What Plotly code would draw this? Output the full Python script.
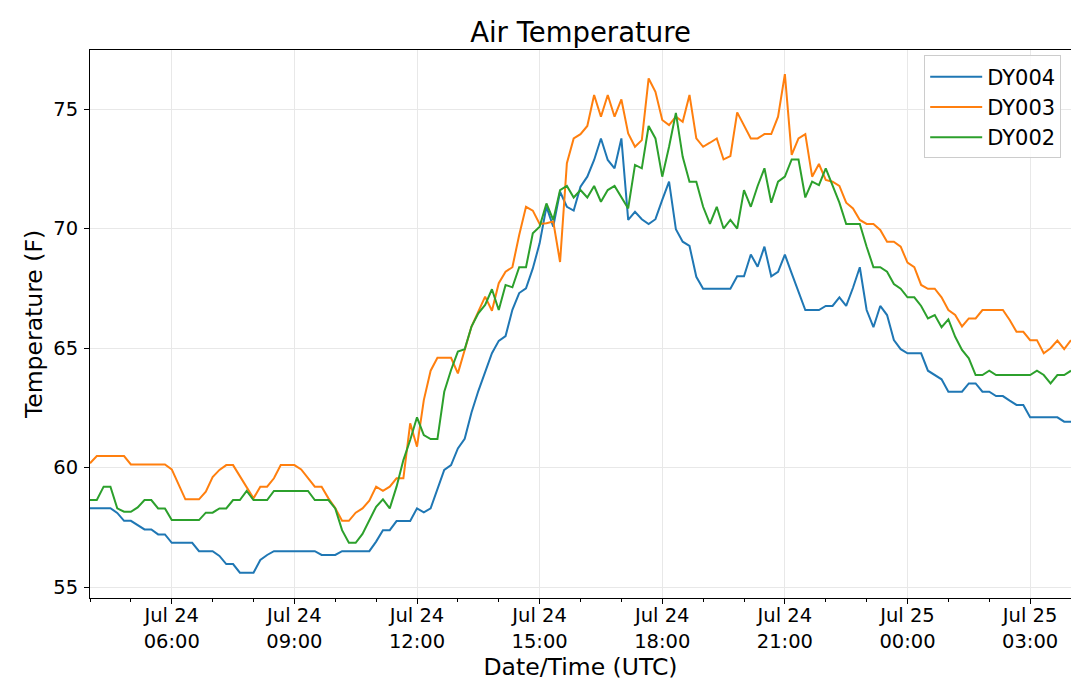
import pandas as pd
import plotly.graph_objects as go

start_time = "2019-07-24 04:00"
n_points = 145
times = pd.date_range(start=start_time, periods=n_points, freq="10min")

dy004 = [58.3, 58.3, 58.3, 58.3, 58.1, 57.77, 57.77, 57.6, 57.41, 57.41,
         57.2, 57.2, 56.85, 56.85, 56.85, 56.85, 56.5, 56.5, 56.5, 56.3,
         55.96, 55.96, 55.6, 55.6, 55.6, 56.13, 56.34, 56.5, 56.5, 56.5,
         56.5, 56.5, 56.5, 56.5, 56.34, 56.34, 56.34, 56.5, 56.5, 56.5,
         56.5, 56.5, 56.9, 57.38, 57.38, 57.76, 57.76, 57.76, 58.29, 58.12,
         58.29, 59.06, 59.9, 60.1, 60.8, 61.2, 62.3, 63.2, 64.0, 64.78,
         65.3, 65.5, 66.6, 67.3, 67.5, 68.33, 69.38, 70.91, 70.08, 71.54,
         70.91, 70.75, 71.75, 72.17, 72.87, 73.77, 72.87, 72.52, 73.77, 70.36,
         70.7, 70.39, 70.19, 70.39, 71.2, 71.96, 69.97, 69.45, 69.27, 67.98,
         67.48, 67.48, 67.48, 67.48, 67.48, 68.0, 68.0, 68.91, 68.4, 69.24,
         68.0, 68.19, 68.91, 68.12, 67.36, 66.59, 66.59, 66.59, 66.76, 66.76,
         67.12, 66.76, 67.52, 68.38, 66.59, 65.87, 66.76, 66.38, 65.33, 64.95,
         64.78, 64.78, 64.78, 64.05, 63.87, 63.69, 63.17, 63.17, 63.17, 63.52,
         63.52, 63.17, 63.17, 62.99, 62.99, 62.8, 62.62, 62.62, 62.1, 62.1,
         62.1, 62.1, 62.1, 61.92, 61.92]

dy003 = [60.18, 60.48, 60.48, 60.48, 60.48, 60.48, 60.13, 60.13, 60.13, 60.13,
         60.13, 60.13, 59.92, 59.3, 58.67, 58.67, 58.67, 58.99, 59.6, 59.9,
         60.1, 60.1, 59.62, 59.2, 58.71, 59.2, 59.2, 59.55, 60.1, 60.1,
         60.1, 59.92, 59.55, 59.2, 59.2, 58.71, 58.3, 57.77, 57.77, 58.11,
         58.29, 58.61, 59.2, 59.02, 59.2, 59.55, 59.55, 61.85, 60.87, 62.82,
         64.05, 64.59, 64.59, 64.59, 63.94, 64.92, 65.9, 66.52, 67.15, 66.56,
         67.71, 68.19, 68.38, 69.73, 70.91, 70.75, 70.19, 70.22, 70.29, 68.6,
         72.73, 73.77, 73.95, 74.29, 75.59, 74.68, 75.59, 74.68, 75.4, 73.98,
         73.42, 73.7, 76.28, 75.72, 74.54, 74.33, 74.68, 74.47, 75.59, 73.77,
         73.42, 73.59, 73.77, 72.89, 73.03, 74.86, 74.33, 73.77, 73.77, 73.95,
         73.95, 74.68, 76.46, 73.08, 73.77, 73.95, 72.17, 72.7, 72.03, 71.96,
         71.78, 71.08, 70.84, 70.36, 70.19, 70.19, 69.94, 69.45, 69.45, 69.24,
         68.57, 68.38, 67.64, 67.48, 67.48, 67.12, 66.59, 66.38, 65.9, 66.24,
         66.24, 66.59, 66.59, 66.59, 66.59, 66.17, 65.68, 65.68, 65.33, 65.33,
         64.78, 64.99, 65.31, 64.95, 65.33]

dy002 = [58.64, 58.64, 59.2, 59.2, 58.29, 58.15, 58.15, 58.33, 58.64, 58.64,
         58.29, 58.29, 57.8, 57.8, 57.8, 57.8, 57.8, 58.11, 58.11, 58.29,
         58.29, 58.64, 58.64, 59.02, 58.64, 58.64, 58.64, 59.02, 59.02, 59.02,
         59.02, 59.02, 59.02, 58.64, 58.64, 58.64, 58.29, 57.38, 56.85, 56.85,
         57.22, 57.8, 58.36, 58.67, 58.29, 59.2, 60.31, 61.15, 62.1, 61.36,
         61.19, 61.19, 63.17, 64.08, 64.85, 64.95, 65.9, 66.45, 66.8, 67.46,
         66.59, 67.64, 67.54, 68.38, 68.38, 69.8, 70.08, 71.05, 70.36, 71.61,
         71.78, 71.3, 71.61, 71.3, 71.78, 71.12, 71.61, 71.78, 71.33, 70.84,
         72.66, 72.52, 74.29, 73.77, 72.17, 73.42, 74.84, 73.0, 71.96, 71.96,
         70.91, 70.19, 70.91, 70.0, 70.36, 70.0, 71.61, 70.91, 71.78, 72.52,
         71.08, 71.96, 72.17, 72.89, 72.89, 71.3, 71.96, 71.82, 72.52, 71.82,
         71.08, 70.19, 70.19, 70.19, 69.24, 68.38, 68.38, 68.19, 67.68, 67.48,
         67.12, 67.12, 66.76, 66.24, 66.38, 65.87, 66.2, 65.47, 64.92, 64.57,
         63.87, 63.87, 64.05, 63.87, 63.87, 63.87, 63.87, 63.87, 63.87, 64.05,
         63.87, 63.52, 63.87, 63.87, 64.05]

series_names = ["DY004", "DY003", "DY002"]
series_colors = ["#1f77b4", "#ff7f0e", "#2ca02c"]

x_tickvals = ["2019-07-24 06:00", "2019-07-24 09:00", "2019-07-24 12:00",
              "2019-07-24 15:00", "2019-07-24 18:00", "2019-07-24 21:00",
              "2019-07-25 00:00", "2019-07-25 03:00"]
x_ticktext = ["Jul 24<br>06:00", "Jul 24<br>09:00", "Jul 24<br>12:00",
              "Jul 24<br>15:00", "Jul 24<br>18:00", "Jul 24<br>21:00",
              "Jul 25<br>00:00", "Jul 25<br>03:00"]
x_minor = pd.date_range("2019-07-24 04:00", "2019-07-25 04:00", freq="1h")
y_tickvals = [55, 60, 65, 70, 75]

fig = go.Figure()
for name, vals, col in zip(series_names, [dy004, dy003, dy002], series_colors):
    fig.add_trace(go.Scatter(x=times, y=vals, mode="lines", name=name,
                             line=dict(color=col, width=2)))

font_family = "DejaVu Sans"
fig.update_layout(
    width=1079, height=691,
    margin=dict(l=82, r=16, t=42, b=101),
    paper_bgcolor="white", plot_bgcolor="white",
    font=dict(family=font_family, size=19.5, color="black"),
    title=dict(text="Air Temperature", x=0.5, xref="paper", xanchor="center",
               y=1 - 24 / 691, yref="container", yanchor="middle",
               font=dict(size=27.5, color="black")),
    showlegend=True,
    legend=dict(x=0.99, y=0.99, xanchor="right", yanchor="top",
                bgcolor="rgba(255,255,255,0.8)", bordercolor="#cccccc", borderwidth=1,
                font=dict(size=21), itemwidth=52, entrywidth=92,
                entrywidthmode="pixels", tracegroupgap=0),
)
fig.update_xaxes(
    type="date", automargin=False,
    range=["2019-07-24 04:00", "2019-07-25 04:00"],
    tickmode="array", tickvals=x_tickvals, ticktext=x_ticktext,
    ticks="outside", ticklen=5, tickcolor="black", tickwidth=1,
    ticklabelstandoff=-5,
    showline=True, mirror=True, linecolor="black", linewidth=1,
    showgrid=True, gridcolor="#e8e8e8", gridwidth=1,
    zeroline=False,
    tickfont=dict(size=19.5),
    minor=dict(tickmode="array", tickvals=list(x_minor), ticks="outside",
               ticklen=3, tickcolor="black", showgrid=False),
    title=dict(text="Date/Time (UTC)", font=dict(size=23.5), standoff=2),
)
fig.update_yaxes(
    automargin=False,
    range=[54.54, 77.47],
    tickmode="array", tickvals=y_tickvals,
    ticks="outside", ticklen=5, tickcolor="black", tickwidth=1,
    ticklabelstandoff=2,
    showline=True, mirror=True, linecolor="black", linewidth=1,
    showgrid=True, gridcolor="#e8e8e8", gridwidth=1,
    zeroline=False,
    tickfont=dict(size=19.5),
    title=dict(text="Temperature (F)", font=dict(size=23.5), standoff=4),
)

fig.write_html("out.html")
